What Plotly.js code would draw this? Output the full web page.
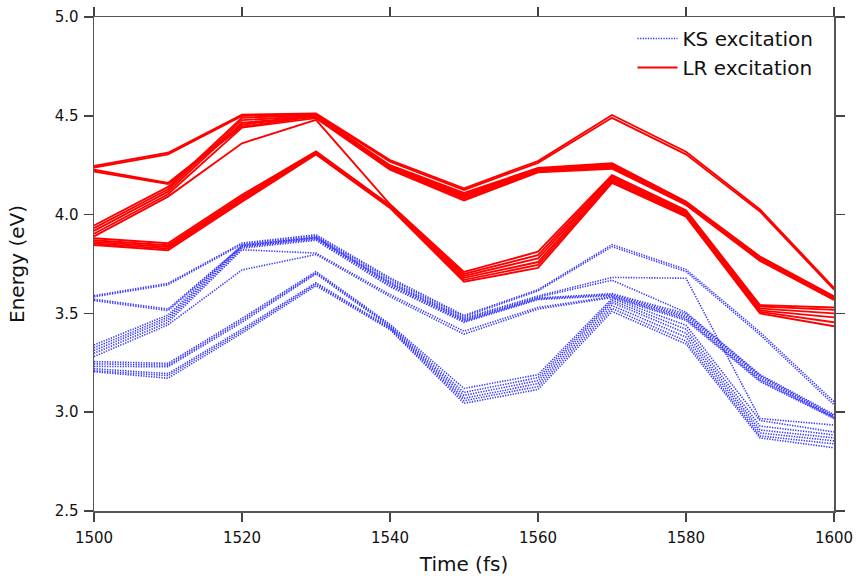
<!DOCTYPE html>
<html>
<head>
<meta charset="utf-8">
<script src="https://cdn.plot.ly/plotly-3.0.1.min.js"></script>
<style>html,body{margin:0;padding:0;background:#fff;}#chart{width:856px;height:576px;}</style>
</head>
<body>
<div id="chart"></div>
<script>
// Time points (fs)
const times = [1500, 1510, 1520, 1530, 1540, 1550, 1560, 1570, 1580, 1590, 1600];

// KS excitation energies (eV), one array per state
const ks01 = [3.590, 3.652, 3.856, 3.898, 3.680, 3.490, 3.620, 3.848, 3.722, 3.405, 3.053];
const ks02 = [3.584, 3.645, 3.850, 3.892, 3.672, 3.483, 3.614, 3.838, 3.712, 3.392, 3.038];
const ks03 = [3.572, 3.522, 3.842, 3.886, 3.662, 3.476, 3.588, 3.682, 3.678, 2.968, 2.935];
const ks04 = [3.565, 3.514, 3.836, 3.880, 3.655, 3.470, 3.582, 3.668, 3.505, 3.190, 2.988];
const ks05 = [3.340, 3.492, 3.845, 3.884, 3.650, 3.465, 3.578, 3.600, 3.498, 3.185, 2.982];
const ks06 = [3.326, 3.480, 3.838, 3.876, 3.642, 3.460, 3.574, 3.595, 3.488, 3.178, 2.978];
const ks07 = [3.312, 3.468, 3.830, 3.870, 3.635, 3.455, 3.570, 3.590, 3.480, 3.170, 2.975];
const ks08 = [3.298, 3.455, 3.822, 3.805, 3.595, 3.410, 3.530, 3.585, 3.472, 3.162, 2.972];
const ks09 = [3.282, 3.442, 3.720, 3.798, 3.585, 3.395, 3.522, 3.580, 3.465, 3.155, 2.968];
const ks10 = [3.256, 3.247, 3.475, 3.712, 3.445, 3.120, 3.190, 3.575, 3.440, 2.958, 2.900];
const ks11 = [3.245, 3.238, 3.465, 3.705, 3.438, 3.100, 3.175, 3.565, 3.420, 2.930, 2.885];
const ks12 = [3.232, 3.230, 3.455, 3.700, 3.432, 3.085, 3.160, 3.555, 3.400, 2.910, 2.870];
const ks13 = [3.220, 3.195, 3.420, 3.655, 3.428, 3.070, 3.145, 3.540, 3.380, 2.895, 2.855];
const ks14 = [3.210, 3.185, 3.410, 3.648, 3.422, 3.058, 3.130, 3.525, 3.360, 2.880, 2.840];
const ks15 = [3.205, 3.172, 3.400, 3.640, 3.418, 3.045, 3.115, 3.510, 3.345, 2.870, 2.820];

// LR excitation energies (eV), one array per state
const lr01 = [4.246, 4.313, 4.506, 4.512, 4.276, 4.133, 4.271, 4.504, 4.318, 4.026, 3.629];
const lr02 = [4.238, 4.305, 4.500, 4.507, 4.268, 4.125, 4.262, 4.490, 4.305, 4.016, 3.620];
const lr03 = [4.227, 4.160, 4.455, 4.503, 4.250, 4.110, 4.236, 4.260, 4.066, 3.788, 3.586];
const lr04 = [4.218, 4.155, 4.445, 4.498, 4.245, 4.102, 4.232, 4.255, 4.062, 3.783, 3.580];
const lr05 = [3.945, 4.140, 4.490, 4.505, 4.240, 4.095, 4.228, 4.250, 4.058, 3.778, 3.577];
const lr06 = [3.932, 4.128, 4.478, 4.500, 4.236, 4.088, 4.223, 4.244, 4.055, 3.774, 3.574];
const lr07 = [3.918, 4.116, 4.465, 4.495, 4.232, 4.080, 4.218, 4.238, 4.052, 3.770, 3.571];
const lr08 = [3.903, 4.103, 4.440, 4.488, 4.228, 4.072, 4.214, 4.232, 4.049, 3.766, 3.568];
const lr09 = [3.890, 4.091, 4.361, 4.479, 4.052, 3.710, 3.812, 4.200, 4.022, 3.542, 3.530];
const lr10 = [3.880, 3.855, 4.100, 4.320, 4.048, 3.700, 3.795, 4.192, 4.015, 3.535, 3.518];
const lr11 = [3.870, 3.845, 4.090, 4.316, 4.044, 3.690, 3.778, 4.184, 4.008, 3.525, 3.500];
const lr12 = [3.862, 3.836, 4.082, 4.312, 4.040, 3.680, 3.760, 4.176, 4.002, 3.515, 3.480];
const lr13 = [3.854, 3.828, 4.073, 4.308, 4.037, 3.670, 3.745, 4.168, 3.996, 3.508, 3.455];
const lr14 = [3.846, 3.820, 4.065, 4.304, 4.034, 3.660, 3.730, 4.160, 3.990, 3.500, 3.435];

const ksSeries = [ks01, ks02, ks03, ks04, ks05, ks06, ks07, ks08, ks09, ks10, ks11, ks12, ks13, ks14, ks15];
const lrSeries = [lr01, lr02, lr03, lr04, lr05, lr06, lr07, lr08, lr09, lr10, lr11, lr12, lr13, lr14];

const xTicks = [1500, 1520, 1540, 1560, 1580, 1600];
const yTicks = [2.5, 3.0, 3.5, 4.0, 4.5, 5.0];
const yTickText = ['2.5', '3.0', '3.5', '4.0', '4.5', '5.0'];

const FONT = 'DejaVu Sans, Verdana, sans-serif';
const traces = [];
ksSeries.forEach((ys, i) => {
  traces.push({
    x: times, y: ys, type: 'scatter', mode: 'lines',
    name: 'KS excitation', legendgroup: 'ks', showlegend: i === 0,
    line: {color: '#3838ff', width: 1.6, dash: '1.3px,1.3px'},
    hoverinfo: 'skip'
  });
});
lrSeries.forEach((ys, i) => {
  traces.push({
    x: times, y: ys, type: 'scatter', mode: 'lines',
    name: 'LR excitation', legendgroup: 'lr', showlegend: i === 0,
    line: {color: '#ff0000', width: 1.9},
    hoverinfo: 'skip'
  });
});

const axisCommon = {
  showline: true, linecolor: '#555', linewidth: 1.5,
  mirror: 'allticks', ticks: 'outside', ticklen: 9, tickwidth: 1.5, tickcolor: '#444',
  showgrid: false, zeroline: false,
  tickfont: {family: FONT, size: 15, color: '#111'}
};

const layout = {
  width: 856, height: 576,
  margin: {l: 94, r: 22, t: 17, b: 65},
  paper_bgcolor: '#fff', plot_bgcolor: '#fff',
  showlegend: true,
  legend: {
    x: 0.979, xanchor: 'right', y: 0.996, yanchor: 'top',
    bgcolor: 'rgba(0,0,0,0)', borderwidth: 0,
    font: {family: FONT, size: 20, color: '#111'},
    tracegroupgap: 0, itemwidth: 40
  },
  xaxis: Object.assign({}, axisCommon, {
    range: [1500, 1600], tickvals: xTicks, ticktext: xTicks.map(String),
    ticklabelstandoff: 3,
    title: {text: 'Time (fs)', font: {family: FONT, size: 20, color: '#111'}, standoff: 14}
  }),
  yaxis: Object.assign({}, axisCommon, {
    range: [2.5, 5.0], tickvals: yTicks, ticktext: yTickText,
    ticklabelstandoff: 2,
    title: {text: 'Energy (eV)', font: {family: FONT, size: 20, color: '#111'}, standoff: 24}
  }),
  hovermode: false
};

Plotly.newPlot('chart', traces, layout, {staticPlot: true, displayModeBar: false});
</script>
</body>
</html>
